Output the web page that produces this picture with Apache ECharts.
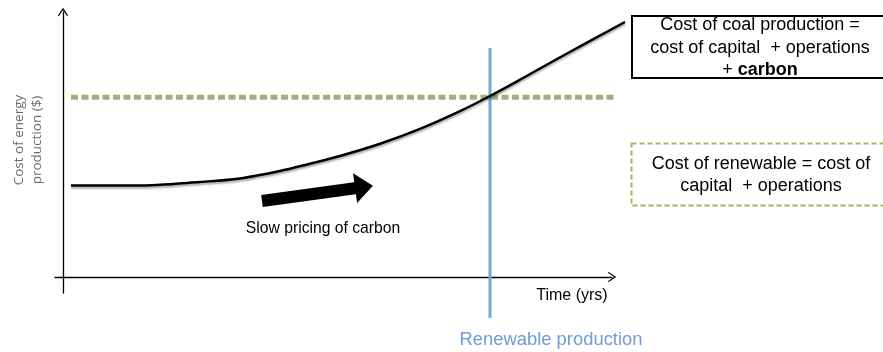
<!DOCTYPE html>
<html>
<head>
<meta charset="utf-8">
<script src="https://cdn.jsdelivr.net/npm/echarts@6/dist/echarts.min.js"></script>
<style>
  html, body { margin: 0; padding: 0; background: #fff; }
  #chart { width: 883px; height: 352px; }
</style>
</head>
<body>
<div id="chart"></div>
<script>
  // time axis (arbitrary years) and cost axis (arbitrary $)
  const timeYrs = [0.8, 7.4, 13.7, 17.7, 21.7, 24.4, 27.7, 31.7, 35.7, 39.7, 42.7, 46.0, 49.4, 56.2]
  const coalCost = [9.15, 9.15, 9.5, 9.85, 10.6, 11.25, 12.1, 13.32, 14.81, 16.59, 18.1, 19.9, 21.8, 25.5]
  const renewableTime = [0.8, 55.2]
  const renewableCost = [18.1, 18.1]
  const parityTime = 42.7
  const parityRange = [22.9, -4.1]
  const pricingArrow = [[19.9, 7.6], [30.1, 9.0]]

  const chart = echarts.init(document.getElementById('chart'))
  const font = 'Liberation Sans, Arial, sans-serif'
  // thin open chevron for the axis ends
  const chevron = 'path://M0,0 L6,9 L5,10 L0,2.5 L-5,10 L-6,9 Z'
  const hidden = {
    type: 'value',
    show: false,
    axisLine: { show: false },
    axisTick: { show: false },
    axisLabel: { show: false },
    splitLine: { show: false }
  }

  chart.setOption({
    animation: false,
    // grid 0 draws the arrowed axes, grid 1 (same scale, a bit wider) holds the marks
    grid: [
      { left: 55, right: 271, top: 12, bottom: 59 },
      { left: 55, right: 258, top: 13, bottom: 59 }
    ],
    xAxis: [
      {
        type: 'value',
        gridIndex: 0,
        min: -0.8,
        max: 54.9,
        axisLine: {
          onZero: true,
          symbol: ['none', chevron],
          symbolSize: [10, 10],
          lineStyle: { color: '#000', width: 1.3 }
        },
        axisTick: { show: false },
        axisLabel: { show: false },
        splitLine: { show: false }
      },
      Object.assign({}, hidden, { gridIndex: 1, min: -0.8, max: 56.2 })
    ],
    yAxis: [
      {
        type: 'value',
        gridIndex: 0,
        min: -1.6,
        max: 26.5,
        axisLine: {
          onZero: true,
          symbol: ['none', chevron],
          symbolSize: [10, 10],
          lineStyle: { color: '#000', width: 1.3 }
        },
        axisTick: { show: false },
        axisLabel: { show: false },
        splitLine: { show: false }
      },
      Object.assign({}, hidden, { gridIndex: 1, min: -1.6, max: 26.4 })
    ],
    series: [
      {
        name: 'Renewable',
        type: 'line',
        xAxisIndex: 1,
        yAxisIndex: 1,
        data: renewableTime.map((t, i) => [t, renewableCost[i]]),
        symbol: 'none',
        silent: true,
        lineStyle: {
          color: '#9bbb59',
          width: 2.6,
          type: [7, 3.5],
          shadowColor: '#a6a6a6',
          shadowOffsetY: 2.4,
          shadowBlur: 0
        },
        markLine: {
          silent: true,
          symbol: ['none', 'triangle'],
          symbolSize: [30, 18],
          label: { show: false },
          lineStyle: { color: '#000', width: 12, type: 'solid' },
          data: [[{ coord: pricingArrow[0] }, { coord: pricingArrow[1] }]]
        }
      },
      {
        name: 'Renewable production',
        type: 'line',
        xAxisIndex: 1,
        yAxisIndex: 1,
        data: parityRange.map((c) => [parityTime, c]),
        symbol: 'none',
        silent: true,
        clip: false,
        lineStyle: { color: '#7ca4d5', width: 3 }
      },
      {
        name: 'Coal',
        type: 'line',
        xAxisIndex: 1,
        yAxisIndex: 1,
        data: timeYrs.map((t, i) => [t, coalCost[i]]),
        symbol: 'none',
        smooth: 0.3,
        silent: true,
        clip: false,
        lineStyle: {
          color: '#000',
          width: 2.5,
          shadowColor: 'rgba(0,0,0,0.35)',
          shadowOffsetY: 2,
          shadowBlur: 2
        }
      }
    ],
    graphic: [
      {
        type: 'text',
        x: 28,
        y: 140,
        rotation: Math.PI / 2,
        style: {
          text: 'Cost of energy\nproduction ($)',
          font: '13.5px "Open Sans", sans-serif',
          fill: '#6b6b6b',
          textAlign: 'center',
          textVerticalAlign: 'middle',
          lineHeight: 18
        }
      },
      {
        type: 'text',
        x: 572,
        y: 296,
        style: {
          text: 'Time (yrs)',
          font: '16px ' + font,
          fill: '#000',
          textAlign: 'center',
          textVerticalAlign: 'middle'
        }
      },
      {
        type: 'text',
        x: 323,
        y: 229,
        style: {
          text: 'Slow pricing of carbon',
          font: '15.7px ' + font,
          fill: '#000',
          textAlign: 'center',
          textVerticalAlign: 'middle'
        }
      },
      {
        type: 'text',
        x: 551,
        y: 340,
        style: {
          text: 'Renewable production',
          font: '18.4px ' + font,
          fill: '#6d9dd3',
          textAlign: 'center',
          textVerticalAlign: 'middle'
        }
      },
      {
        type: 'rect',
        shape: { x: 632, y: 16, width: 260, height: 62 },
        style: { fill: '#fff', stroke: '#000', lineWidth: 2 }
      },
      {
        type: 'text',
        x: 760,
        y: 48,
        style: {
          text: 'Cost of coal production =\ncost of capital  + operations\n+ {b|carbon}',
          font: '18px ' + font,
          fill: '#000',
          textAlign: 'center',
          textVerticalAlign: 'middle',
          lineHeight: 22.5,
          rich: {
            b: { font: 'bold 18px ' + font, fill: '#000' }
          }
        }
      },
      {
        type: 'rect',
        shape: { x: 631.5, y: 143.5, width: 260, height: 62 },
        style: { fill: '#fff', stroke: '#9bbb59', lineWidth: 2, lineDash: [5, 3] }
      },
      {
        type: 'text',
        x: 761,
        y: 175,
        style: {
          text: 'Cost of renewable = cost of\ncapital  + operations',
          font: '18px ' + font,
          fill: '#000',
          textAlign: 'center',
          textVerticalAlign: 'middle',
          lineHeight: 22
        }
      }
    ]
  })
</script>
</body>
</html>
